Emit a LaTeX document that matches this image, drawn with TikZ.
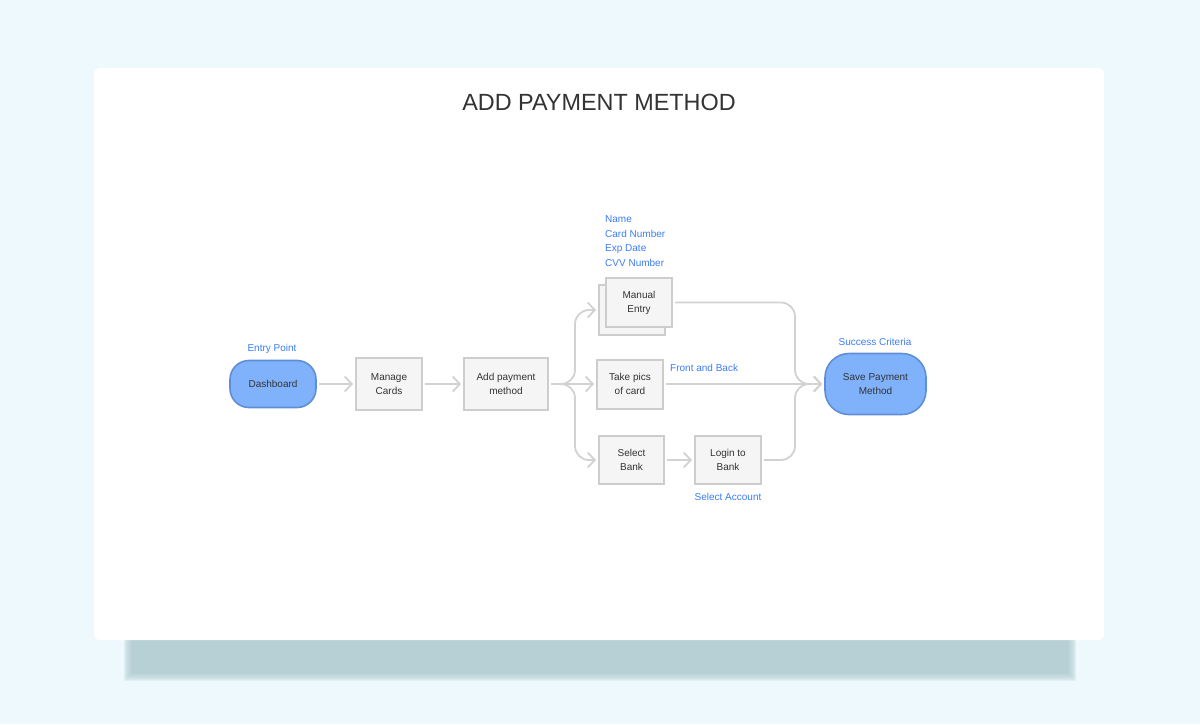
\documentclass[tikz,border=0pt]{standalone}
\usepackage{fontspec}
\setmainfont{Liberation Sans}
\usetikzlibrary{arrows.meta}
\definecolor{bg}{HTML}{EEF9FD}
\definecolor{shadowc}{HTML}{B7D0D5}
\definecolor{boxfill}{HTML}{F5F5F5}
\definecolor{boxline}{HTML}{CDCDCD}
\definecolor{connc}{HTML}{D2D2D2}
\definecolor{bluefill}{HTML}{80B2FC}
\definecolor{blueline}{HTML}{5E8ED6}
\definecolor{labelblue}{HTML}{3B7DF7}
\definecolor{txt}{HTML}{333333}
\begin{document}
\begin{tikzpicture}[x=1pt,y=-1pt,
  stepbox/.style={draw=boxline, fill=boxfill, line width=2pt, align=center,
    font=\fontsize{10}{14}\selectfont, text=txt, inner sep=0pt},
  term/.style={draw=blueline, fill=bluefill, line width=1.6pt, align=center,
    font=\fontsize{10}{14}\selectfont, text=txt, inner sep=0pt},
  lab/.style={text=labelblue, font=\fontsize{10}{12}\selectfont, inner sep=0pt},
  connector/.style={draw=connc, line width=1.8pt, rounded corners=14pt,
    -{Straight Barb[length=7pt,width=15pt]}, shorten >=2pt, shorten <=2pt}
]
\useasboundingbox (0,0) rectangle (1200,724);
\fill[bg] (0,0) rectangle (1200,724);
% shadow
\fill[shadowc] (131,630) rectangle (1069,674);
\foreach \k in {1,...,7}{
  \fill[shadowc, opacity=0.22] (131-\k,630) rectangle (1069+\k,674+\k);
}
% card
\fill[white, rounded corners=6pt] (94,68) rectangle (1104,640);
\node[text=txt, font=\fontsize{23.4}{28}\selectfont, inner sep=0pt] (title) at (599,102) {ADD PAYMENT METHOD};

% nodes
\node[term, rounded corners=19pt, minimum width=86pt, minimum height=47pt] (dash) at (273,384) {Dashboard};
\node[stepbox, minimum width=66pt, minimum height=52pt] (manage) at (389,384) {Manage\\Cards};
\node[stepbox, minimum width=84pt, minimum height=52pt] (add) at (506,384) {Add payment\\method};
\node[stepbox, minimum width=66pt, minimum height=50pt] (manualback) at (632,310) {};
\node[stepbox, minimum width=66pt, minimum height=49pt] (manual) at (639,302.5) {Manual\\Entry};
\node[stepbox, minimum width=66pt, minimum height=49pt] (take) at (630,384) {Take pics\\of card};
\node[stepbox, minimum width=65pt, minimum height=48pt] (select) at (631.5,460) {Select\\Bank};
\node[stepbox, minimum width=66pt, minimum height=48pt] (login) at (728,460) {Login to\\Bank};
\node[term, rounded corners=24pt, minimum width=101pt, minimum height=61pt] (save) at (875.5,384) {Save Payment\\Method};

% labels
\node[lab, anchor=base] (entry) at (272,351) {Entry Point};
\node[lab, anchor=base] (success) at (875,345) {Success Criteria};
\node[lab, anchor=base] (account) at (728,500.6) {Select Account};
\node[lab, anchor=base west] (front) at (670,371.6) {Front and Back};
\node[lab, anchor=base west] (l1) at (605,222.6) {Name};
\node[lab, anchor=base west] (l2) at (605,237.1) {Card Number};
\node[lab, anchor=base west] (l3) at (605,251.6) {Exp Date};
\node[lab, anchor=base west] (l4) at (605,266.1) {CVV Number};

% split points
\coordinate (splitL) at (575,384);
\coordinate (splitR) at (795,384);

% connectors
\draw[connector] (dash.east) -- (manage.west);
\draw[connector] (manage.east) -- (add.west);
\draw[connector] (add.east) -- (splitL) -- (splitL |- manualback.west) -- (manualback.west);
\draw[connector] (add.east) -- (take.west);
\draw[connector] (add.east) -- (splitL) -- (splitL |- select.west) -- (select.west);
\draw[connector] (select.east) -- (login.west);
\draw[connector] (manual.east) -- (splitR |- manual.east) -- (splitR) -- (save.west);
\draw[connector] (take.east) -- (save.west);
\draw[connector] (login.east) -- (splitR |- login.east) -- (splitR) -- (save.west);
\end{tikzpicture}
\end{document}
